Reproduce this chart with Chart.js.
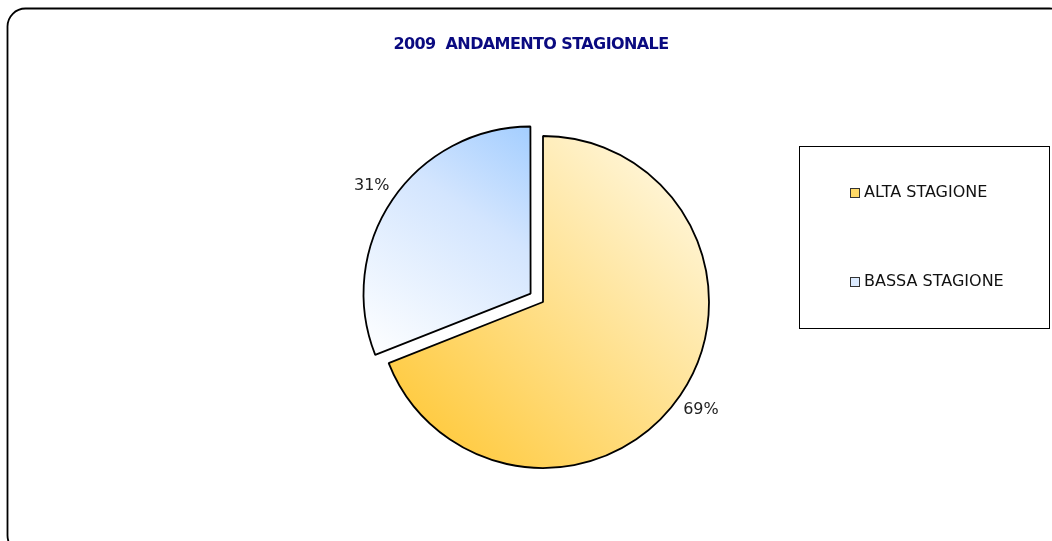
<!DOCTYPE html>
<html>
<head>
<meta charset="utf-8">
<script src="https://cdn.jsdelivr.net/npm/chart.js@4/dist/chart.umd.min.js"></script>
<style>
  html, body { margin: 0; padding: 0; background: #fff; }
  #wrap { position: relative; width: 1052px; height: 541px; }
</style>
</head>
<body>
<div id="wrap"><canvas id="pieChart" width="1052" height="541"></canvas></div>
<script>
// ===========================
// DATA
// ===========================
const chartTitle = "2009  ANDAMENTO STAGIONALE";
const categories = ["ALTA STAGIONE", "BASSA STAGIONE"];
const shares = [69, 31];
const sliceOffsets = [0, 60];

const PIE_RADIUS = 166;

// gradient ends per slice: [lower-left, upper-right]
const gradientStops = [
    ["#FFCC45", "#FFF6DA"],
    ["#FBFDFF", "#A2CDFF"]
];
const legendSwatch = ["#FFD966", "#DCEBFF"];

function sliceFill(context) {
    const chart = context.chart;
    const area = chart.chartArea;
    if (!area) return gradientStops[context.dataIndex][0];
    const g = chart.ctx;
    const cx = (area.left + area.right) / 2;
    const cy = (area.top + area.bottom) / 2;
    const r = PIE_RADIUS;
    let grad;
    if (context.dataIndex === 0) {
        grad = g.createLinearGradient(cx - 0.7 * r, cy + 0.7 * r, cx + 0.8 * r, cy - 0.8 * r);
    } else {
        grad = g.createLinearGradient(cx - 0.95 * r, cy + 0.3 * r, cx - 0.02 * r, cy - 1.05 * r);
    }
    grad.addColorStop(0, gradientStops[context.dataIndex][0]);
    if (context.dataIndex === 1) grad.addColorStop(0.6, "#D3E5FE");
    grad.addColorStop(1, gradientStops[context.dataIndex][1]);
    return grad;
}

// ===========================
// DECORATION PLUGIN (frame, title, legend box, % labels)
// ===========================
const decorations = {
    id: "decorations",
    beforeDraw(chart) {
        const g = chart.ctx;
        g.save();
        g.fillStyle = "#fff";
        g.fillRect(0, 0, chart.width, chart.height);
        g.strokeStyle = "#000";
        g.lineWidth = 1.8;
        g.beginPath();
        g.roundRect(7.5, 8.5, 1060, 545, 18);
        g.stroke();
        g.restore();
    },
    afterDraw(chart) {
        const g = chart.ctx;
        g.save();

        // title
        g.fillStyle = "#0A0A80";
        g.font = "bold 16px 'DejaVu Sans'";
        g.letterSpacing = "-0.6px";
        g.textAlign = "center";
        g.textBaseline = "middle";
        g.fillText(chartTitle, 531, 45);
        g.letterSpacing = "0px";

        // percent labels outside the slices
        const meta = chart.getDatasetMeta(0);
        const total = shares.reduce((a, b) => a + b, 0);
        g.fillStyle = "#222";
        g.font = "16px 'DejaVu Sans'";
        meta.data.forEach((arc, i) => {
            const mid = (arc.startAngle + arc.endAngle) / 2;
            const off = sliceOffsets[i] / 4 * (2 - Math.sin(Math.min(Math.PI, arc.circumference)));
            const d = off + arc.outerRadius + 25;
            const x = arc.x + Math.cos(mid) * d;
            const y = arc.y + Math.sin(mid) * d;
            g.fillText(Math.round(shares[i] / total * 100) + "%", x, y);
        });

        // legend box
        g.strokeStyle = "#000";
        g.lineWidth = 1;
        g.strokeRect(799.5, 146.5, 250, 182);
        g.textAlign = "left";
        g.font = "16px 'DejaVu Sans'";
        const rows = [193, 282];
        categories.forEach((name, i) => {
            const y = rows[i];
            g.fillStyle = legendSwatch[i];
            g.fillRect(850.5, y - 4.5, 9, 9);
            g.strokeStyle = "#333";
            g.strokeRect(850.5, y - 4.5, 9, 9);
            g.fillStyle = "#111";
            g.fillText(name, 864, y);
        });

        g.restore();
    }
};

// ===========================
// PIE CHART
// ===========================
const ctx = document.getElementById("pieChart").getContext("2d");

new Chart(ctx, {
    type: "pie",
    data: {
        labels: categories,
        datasets: [{
            data: shares,
            backgroundColor: sliceFill,
            borderColor: "#000",
            borderWidth: 1.8,
            offset: sliceOffsets,
            hoverOffset: 0
        }]
    },
    options: {
        responsive: false,
        animation: false,
        radius: PIE_RADIUS,
        layout: {
            padding: { left: 200, right: 166, top: 120, bottom: 57 }
        },
        plugins: {
            legend: { display: false },
            title: { display: false },
            tooltip: { enabled: false }
        }
    },
    plugins: [decorations]
});
</script>
</body>
</html>
